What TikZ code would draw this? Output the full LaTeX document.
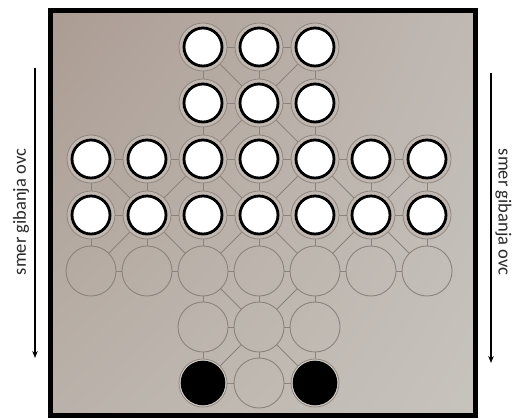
\documentclass[tikz,border=0pt]{standalone}
\usepackage{fontspec}
\setmainfont{Carlito}
\usetikzlibrary{arrows.meta,shadings}
\definecolor{holec}{HTML}{8A827C}
\definecolor{ringc}{HTML}{8F8680}
\definecolor{gapc}{HTML}{C2B8B2}
\definecolor{lightc}{HTML}{D2CCC7}
\definecolor{edgec}{HTML}{8A827C}
\definecolor{txtc}{HTML}{2A2A2A}
\definecolor{bgul}{RGB}{171,156,147}
\definecolor{bgur}{RGB}{192,185,179}
\definecolor{bgll}{RGB}{186,178,170}
\definecolor{bglr}{RGB}{199,195,189}
\tikzset{
  hole/.style={circle, minimum size=50pt, inner sep=0pt, draw=holec, line width=0.9pt},
  wpiece/.style={circle, minimum size=48pt, inner sep=0pt, draw=ringc, line width=0.8pt, fill=gapc,
    path picture={\fill[white] (path picture bounding box.center) circle (19pt);
                  \draw[black, line width=2.8pt] (path picture bounding box.center) circle (19pt);}},
  bpiece/.style={circle, minimum size=48pt, inner sep=0pt, draw=ringc, line width=0.8pt, fill=lightc,
    path picture={\fill[black] (path picture bounding box.center) circle (22.3pt);}},
  link/.style={draw=edgec, line width=0.9pt},
  dirarrow/.style={line width=1.4pt, black, -{Stealth[length=7pt,width=5.5pt]}},
  dirtext/.style={font=\fontsize{18.5}{20}\selectfont, text=txtc, inner sep=0pt}
}
\begin{document}
\begin{tikzpicture}[x=1pt,y=-1pt]
\useasboundingbox (0,0) rectangle (513,418);
\fill[white] (0,0) rectangle (513,418);
% board
\shade[upper left=bgul, upper right=bgur, lower left=bgll, lower right=bglr]
  (50.5,10.5) rectangle (475.8,415.5);
\draw[line width=5pt] (50.5,10.5) rectangle (475.8,415.5);
% white pieces: rows 1-4
\foreach \r/\y in {1/47,2/103} {
  \foreach \c/\x in {3/203,4/259,5/315} {
    \node[wpiece] (n-\r-\c) at (\x,\y) {};
  }
}
\foreach \r/\y in {3/159,4/215} {
  \foreach \c/\x in {1/91,2/147,3/203,4/259,5/315,6/371,7/427} {
    \node[wpiece] (n-\r-\c) at (\x,\y) {};
  }
}
% empty holes
\foreach \c/\x in {1/91,2/147,3/203,4/259,5/315,6/371,7/427} {
  \node[hole] (n-5-\c) at (\x,271) {};
}
\foreach \c/\x in {3/203,4/259,5/315} {
  \node[hole] (n-6-\c) at (\x,327) {};
}
\node[bpiece] (n-7-3) at (203,383) {};
\node[hole] (n-7-4) at (259,383) {};
\node[bpiece] (n-7-5) at (315,383) {};
% horizontal links
\foreach \r in {1,2,6,7} {
  \draw[link] (n-\r-3) -- (n-\r-4);
  \draw[link] (n-\r-4) -- (n-\r-5);
}
\foreach \r in {3,4,5} {
  \foreach \c [evaluate=\c as \d using int(\c+1)] in {1,...,6} {
    \draw[link] (n-\r-\c) -- (n-\r-\d);
  }
}
% vertical links
\foreach \c in {3,4,5} {
  \foreach \r [evaluate=\r as \s using int(\r+1)] in {1,...,6} {
    \draw[link] (n-\r-\c) -- (n-\s-\c);
  }
}
\foreach \c in {1,2,6,7} {
  \draw[link] (n-3-\c) -- (n-4-\c);
  \draw[link] (n-4-\c) -- (n-5-\c);
}
% diagonal links
\foreach \a/\b in {1-3/2-4, 1-5/2-4, 2-4/3-3, 2-4/3-5,
  3-1/4-2, 3-3/4-2, 3-3/4-4, 3-5/4-4, 3-5/4-6, 3-7/4-6,
  4-2/5-1, 4-2/5-3, 4-4/5-3, 4-4/5-5, 4-6/5-5, 4-6/5-7,
  5-3/6-4, 5-5/6-4, 6-4/7-3, 6-4/7-5} {
  \draw[link] (n-\a) -- (n-\b);
}
% direction arrows and labels
\coordinate (la1) at (35,68);
\coordinate (la2) at (35,358);
\draw[dirarrow] (la1) -- (la2);
\node[dirtext, rotate=90] (ltext) at (21,212) {smer gibanja ovc};
\coordinate (ra1) at (491,73);
\coordinate (ra2) at (491,363);
\draw[dirarrow] (ra1) -- (ra2);
\node[dirtext, rotate=-90] (rtext) at (503.5,212) {smer gibanja ovc};
\end{tikzpicture}
\end{document}
